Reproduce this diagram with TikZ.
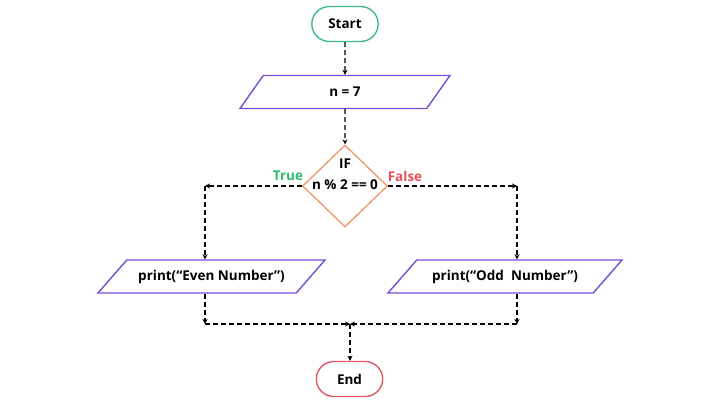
\documentclass[tikz,border=0pt]{standalone}
\usepackage{fontspec}
\setmainfont{Open Sans}
\usetikzlibrary{shapes.geometric}
\usetikzlibrary{shapes.misc}
\usetikzlibrary{arrows.meta}
\definecolor{startgreen}{RGB}{62,186,140}
\definecolor{endred}{RGB}{226,88,100}
\definecolor{iopurple}{RGB}{118,78,214}
\definecolor{condorange}{RGB}{238,150,104}
\definecolor{truegreen}{RGB}{46,190,110}
\definecolor{falsered}{RGB}{232,80,92}

\begin{document}
\begin{tikzpicture}[x=1pt, y=-1pt,
  terminal/.style={rounded rectangle, line width=1.4pt, minimum width=73pt, minimum height=35pt, font=\bfseries\fontsize{13.5}{15}\selectfont},
  iobox/.style={trapezium, trapezium left angle=35, trapezium right angle=145, trapezium stretches body, draw=iopurple, line width=1.4pt, minimum height=33pt, font=\bfseries\fontsize{13.5}{15}\selectfont},
  decision/.style={diamond, draw=condorange, line width=1.3pt, minimum width=85pt, minimum height=82pt, inner sep=0pt},
  flow/.style={-{Stealth[length=5pt,width=5pt]}, line width=1.3pt, dash pattern=on 5pt off 3pt},
]
\useasboundingbox (0,0) rectangle (720,404);
% shapes
\node[terminal, draw=startgreen] (start) at (345,24) {Start};
\node[iobox, minimum width=210pt] (n7) at (345,92) {n = 7};
\node[decision] (cond) at (345,186) {};
\node[align=center, font=\bfseries\fontsize{13.5}{21}\selectfont] (condtxt) at (345,174) {IF\\n \% 2 == 0};
\node[font=\bfseries\fontsize{13.5}{15}\selectfont, text=truegreen] (truelbl) at (288,176) {True};
\node[font=\bfseries\fontsize{13.5}{15}\selectfont, text=falsered] (falselbl) at (405,176) {False};
\node[iobox, minimum width=227pt] (even) at (211.5,276.5) {print(“Even Number”)};
\node[iobox, minimum width=234pt] (odd) at (505,276.5) {print(“Odd~~Number”)};
\node[terminal, draw=endred] (end) at (349.5,379) {End};
% corners
\coordinate (tl) at (205,186);
\coordinate (tr) at (517,186);
\coordinate (bl) at (205,324);
\coordinate (br) at (517,324);
\coordinate (mid) at (350,324);
% connectors
\draw[flow] (start) -- (n7);
\draw[flow] (n7) -- (cond);
\draw[flow] (cond.west) -- (tl);
\draw[flow] (tl) -- (tl |- even.north);
\draw[flow] (cond.east) -- (tr);
\draw[flow] (tr) -- (tr |- odd.north);
\draw[flow] (bl |- even.south) -- (bl);
\draw[flow] (bl) -- (mid);
\draw[flow] (br |- odd.south) -- (br);
\draw[flow] (br) -- (mid);
\draw[flow] (mid) -- (mid |- end.north);
\end{tikzpicture}
\end{document}
